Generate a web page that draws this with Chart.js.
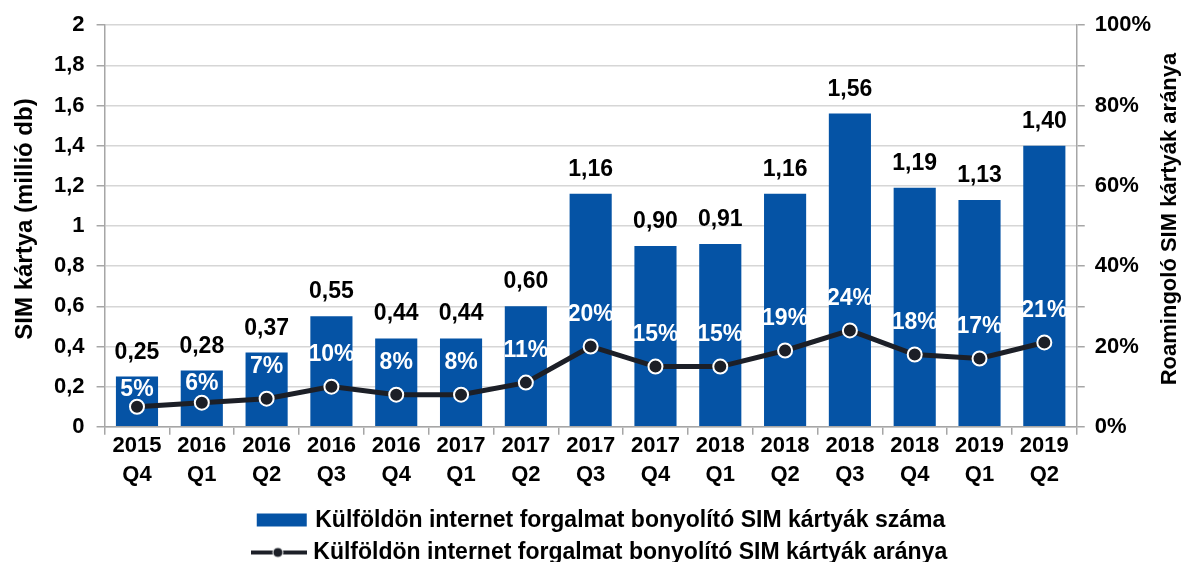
<!DOCTYPE html>
<html>
<head>
<meta charset="utf-8">
<script src="https://cdn.jsdelivr.net/npm/chart.js@4.4.1/dist/chart.umd.min.js"></script>
<style>
    html, body { margin: 0; padding: 0; background: #fff; }
    #box { width: 1185px; height: 562px; }
</style>
</head>
<body>
<div id="box"><canvas id="simChart" width="1185" height="562"></canvas></div>
<script>
// data
const years = ["2015", "2016", "2016", "2016", "2016", "2017", "2017", "2017", "2017", "2018", "2018", "2018", "2018", "2019", "2019"];
const quarters = ["Q4", "Q1", "Q2", "Q3", "Q4", "Q1", "Q2", "Q3", "Q4", "Q1", "Q2", "Q3", "Q4", "Q1", "Q2"];
const simCount = [0.25, 0.28, 0.37, 0.55, 0.44, 0.44, 0.60, 1.16, 0.90, 0.91, 1.16, 1.56, 1.19, 1.13, 1.40];
const simShare = [5, 6, 7, 10, 8, 8, 11, 20, 15, 15, 19, 24, 18, 17, 21];
const leftTicks = { min: 0, max: 2, step: 0.2 };
const rightTicks = { min: 0, max: 100, step: 10, labelEvery: 20 };

const BLUE = '#0553a5';
const DARK = '#1c1f27';
const FONT = '"Liberation Sans", Arial, sans-serif';
const LEFT_TITLE = 'SIM kártya (millió db)';
const RIGHT_TITLE = 'Roamingoló SIM kártyák aránya';

const categories = years.map((y, i) => [y, quarters[i]]);

// legend icons (bar box, line with dot)
function makeIcon(kind) {
    const c = document.createElement('canvas');
    c.width = 56; c.height = 16;
    const g = c.getContext('2d');
    if (kind === 'bar') {
        g.fillStyle = BLUE;
        g.fillRect(4, 1, 50, 13);
    } else {
        g.fillStyle = DARK;
        g.fillRect(0, 6, 56, 4);
        g.beginPath();
        g.arc(27, 8, 5, 0, Math.PI * 2);
        g.fill();
        g.strokeStyle = '#fff';
        g.lineWidth = 1;
        g.stroke();
    }
    return c;
}
const legendIcons = [makeIcon('bar'), makeIcon('line')];

function drawTitle(ctx, text, x, y, size) {
    ctx.save();
    ctx.translate(x, y);
    ctx.rotate(-Math.PI / 2);
    ctx.font = 'bold ' + size + 'px ' + FONT;
    ctx.fillStyle = '#000';
    ctx.textAlign = 'center';
    ctx.textBaseline = 'middle';
    ctx.fillText(text, 0, 0);
    ctx.restore();
}

const valueLabels = {
    id: 'valueLabels',
    afterDatasetsDraw(chart) {
        const ctx = chart.ctx;
        const bars = chart.getDatasetMeta(0).data;
        const pts = chart.getDatasetMeta(1).data;
        ctx.save();
        ctx.font = 'bold 23px ' + FONT;
        ctx.textAlign = 'center';
        ctx.fillStyle = '#000';
        ctx.textBaseline = 'alphabetic';
        bars.forEach((b, i) => {
            ctx.fillText(simCount[i].toFixed(2).replace('.', ','), b.x, b.y - 18);
        });
        ctx.fillStyle = '#fff';
        ctx.textBaseline = 'middle';
        pts.forEach((p, i) => {
            // keep the share label inside its bar
            const y = Math.max(p.y - 32, bars[i].y + 13);
            ctx.fillText(simShare[i] + '%', p.x, y);
        });
        ctx.restore();
    },
    afterDraw(chart) {
        // both axis titles read bottom-to-top
        const mid = (chart.chartArea.top + chart.chartArea.bottom) / 2 - 7;
        drawTitle(chart.ctx, LEFT_TITLE, 25, mid, 24);
        drawTitle(chart.ctx, RIGHT_TITLE, 1170, mid, 22);
    }
};

const ctx = document.getElementById('simChart').getContext('2d');
new Chart(ctx, {
    type: 'bar',
    data: {
        labels: categories,
        datasets: [
            {
                type: 'bar',
                label: 'Külföldön internet forgalmat bonyolító SIM kártyák száma',
                data: simCount,
                backgroundColor: BLUE,
                barPercentage: 0.65,
                categoryPercentage: 1,
                yAxisID: 'y',
                order: 2
            },
            {
                type: 'line',
                label: 'Külföldön internet forgalmat bonyolító SIM kártyák aránya',
                data: simShare,
                borderColor: DARK,
                borderWidth: 5,
                pointRadius: 7,
                pointBackgroundColor: DARK,
                pointBorderColor: '#fff',
                pointBorderWidth: 2,
                tension: 0,
                yAxisID: 'y1',
                order: 1
            }
        ]
    },
    options: {
        responsive: false,
        animation: false,
        devicePixelRatio: 1,
        layout: { padding: { left: 42, right: 24, top: 8, bottom: -12 } },
        plugins: {
            tooltip: { enabled: false },
            legend: {
                position: 'bottom',
                labels: {
                    color: '#000',
                    font: { family: FONT, size: 23, weight: 'bold' },
                    usePointStyle: true,
                    pointStyleWidth: 46,
                    padding: 9,
                    generateLabels(chart) {
                        const items = Chart.defaults.plugins.legend.labels.generateLabels(chart);
                        items.sort((a, b) => a.datasetIndex - b.datasetIndex);
                        items.forEach(it => { it.pointStyle = legendIcons[it.datasetIndex]; });
                        return items;
                    }
                }
            }
        },
        scales: {
            x: {
                grid: { drawOnChartArea: false, drawTicks: true, tickLength: 8, color: '#a6a6a6', lineWidth: 1.5 },
                border: { color: '#a6a6a6', width: 1.5 },
                ticks: {
                    color: '#000',
                    font: { family: FONT, size: 22, weight: 'bold', lineHeight: 1.3 },
                    padding: -3,
                    maxRotation: 0,
                    autoSkip: false
                },
                afterFit(scale) { scale.height += 14; }
            },
            y: {
                position: 'left',
                min: leftTicks.min,
                max: leftTicks.max,
                grid: { color: '#d6d6d6', lineWidth: 1.5, tickLength: 8, tickColor: '#a6a6a6' },
                border: { color: '#a6a6a6', width: 1.5 },
                ticks: {
                    stepSize: leftTicks.step,
                    color: '#000',
                    padding: 12,
                    font: { family: FONT, size: 22, weight: 'bold' },
                    callback: v => String(Math.round(v * 10) / 10).replace('.', ',')
                }
            },
            y1: {
                position: 'right',
                min: rightTicks.min,
                max: rightTicks.max,
                grid: { drawOnChartArea: false, tickLength: 8, color: '#a6a6a6', lineWidth: 1.5 },
                border: { color: '#a6a6a6', width: 1.5 },
                ticks: {
                    stepSize: rightTicks.step,
                    color: '#000',
                    padding: 10,
                    font: { family: FONT, size: 22, weight: 'bold' },
                    callback: v => v % rightTicks.labelEvery === 0 ? v + '%' : ''
                }
            }
        }
    },
    plugins: [valueLabels]
});
</script>
</body>
</html>
